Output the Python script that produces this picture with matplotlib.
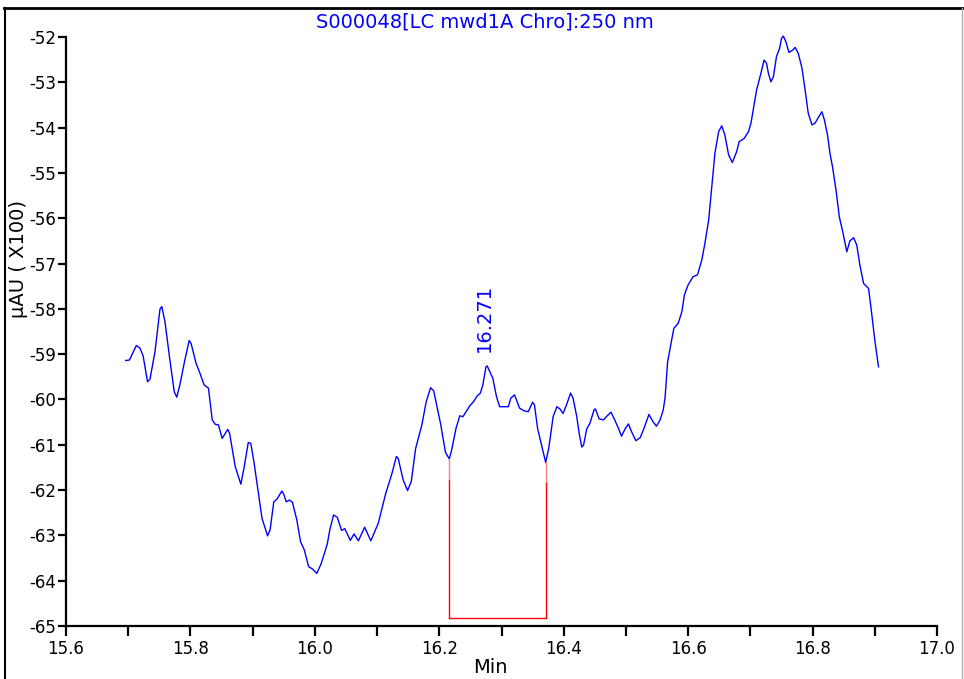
import matplotlib
matplotlib.use("Agg")
import matplotlib.pyplot as plt
from matplotlib.lines import Line2D

# chromatogram trace (min, uAU x100)
time = [15.696, 15.702, 15.713, 15.719, 15.724, 15.731, 15.735, 15.743, 15.751, 15.754,
        15.759, 15.767, 15.774, 15.778, 15.783, 15.791, 15.798, 15.801, 15.809, 15.815,
        15.822, 15.829, 15.835, 15.840, 15.845, 15.851, 15.860, 15.863, 15.872, 15.881,
        15.886, 15.893, 15.897, 15.902, 15.915, 15.924, 15.928, 15.934, 15.939, 15.947,
        15.950, 15.954, 15.959, 15.964, 15.971, 15.977, 15.983, 15.990, 15.996, 16.003,
        16.010, 16.020, 16.024, 16.030, 16.036, 16.043, 16.048, 16.057, 16.063, 16.070,
        16.080, 16.090, 16.102, 16.114, 16.124, 16.131, 16.134, 16.142, 16.149, 16.155,
        16.162, 16.172, 16.179, 16.186, 16.191, 16.202, 16.210, 16.216, 16.220, 16.227,
        16.233, 16.238, 16.244, 16.249, 16.255, 16.261, 16.266, 16.270, 16.275, 16.277,
        16.286, 16.292, 16.297, 16.303, 16.311, 16.315, 16.321, 16.324, 16.329, 16.336,
        16.343, 16.350, 16.353, 16.358, 16.365, 16.371, 16.376, 16.383, 16.389, 16.394,
        16.399, 16.405, 16.411, 16.415, 16.421, 16.425, 16.429, 16.432, 16.437, 16.442,
        16.449, 16.451, 16.457, 16.464, 16.470, 16.476, 16.482, 16.488, 16.493, 16.499,
        16.504, 16.509, 16.516, 16.523, 16.529, 16.537, 16.543, 16.549, 16.555, 16.560,
        16.563, 16.567, 16.572, 16.577, 16.584, 16.590, 16.594, 16.600, 16.608, 16.615,
        16.622, 16.627, 16.633, 16.638, 16.643, 16.649, 16.654, 16.659, 16.665, 16.671,
        16.678, 16.682, 16.690, 16.697, 16.701, 16.706, 16.710, 16.717, 16.722, 16.726,
        16.729, 16.733, 16.737, 16.742, 16.747, 16.750, 16.753, 16.757, 16.762, 16.768,
        16.772, 16.777, 16.783, 16.788, 16.793, 16.799, 16.804, 16.810, 16.815, 16.819,
        16.824, 16.828, 16.832, 16.838, 16.843, 16.849, 16.855, 16.860, 16.866, 16.871,
        16.876, 16.882, 16.890, 16.895, 16.900, 16.906]
signal = [-59.14, -59.13, -58.81, -58.87, -59.04, -59.61, -59.55, -58.95, -58.01, -57.95,
          -58.28, -59.13, -59.83, -59.95, -59.68, -59.13, -58.70, -58.76, -59.20, -59.41,
          -59.68, -59.75, -60.45, -60.55, -60.56, -60.86, -60.66, -60.75, -61.48, -61.87,
          -61.52, -60.95, -60.97, -61.37, -62.62, -63.01, -62.88, -62.26, -62.20, -62.02,
          -62.09, -62.26, -62.22, -62.27, -62.66, -63.14, -63.32, -63.69, -63.74, -63.84,
          -63.63, -63.19, -62.88, -62.55, -62.60, -62.89, -62.85, -63.11, -62.97, -63.12,
          -62.82, -63.12, -62.73, -62.07, -61.63, -61.26, -61.30, -61.78, -62.01, -61.81,
          -61.08, -60.56, -60.05, -59.74, -59.81, -60.53, -61.17, -61.31, -61.11, -60.63,
          -60.36, -60.38, -60.25, -60.14, -60.05, -59.92, -59.86, -59.68, -59.28, -59.26,
          -59.53, -59.94, -60.16, -60.16, -60.16, -59.97, -59.90, -60.01, -60.19, -60.25,
          -60.27, -60.06, -60.12, -60.64, -61.04, -61.39, -61.07, -60.38, -60.16, -60.21,
          -60.31, -60.10, -59.86, -59.97, -60.38, -60.76, -61.05, -61.00, -60.65, -60.53,
          -60.22, -60.21, -60.43, -60.45, -60.36, -60.28, -60.45, -60.64, -60.81, -60.64,
          -60.54, -60.71, -60.91, -60.84, -60.64, -60.33, -60.48, -60.59, -60.45, -60.23,
          -59.95, -59.17, -58.80, -58.43, -58.32, -58.06, -57.69, -57.47, -57.29, -57.25,
          -56.92, -56.55, -56.04, -55.30, -54.57, -54.09, -53.96, -54.16, -54.60, -54.77,
          -54.53, -54.31, -54.24, -54.09, -53.90, -53.50, -53.17, -52.80, -52.51, -52.58,
          -52.80, -52.99, -52.88, -52.43, -52.25, -52.03, -51.98, -52.10, -52.34, -52.29,
          -52.23, -52.36, -52.69, -53.17, -53.68, -53.94, -53.90, -53.76, -53.65, -53.83,
          -54.16, -54.57, -54.86, -55.41, -55.97, -56.33, -56.74, -56.50, -56.43, -56.59,
          -57.03, -57.44, -57.55, -58.10, -58.69, -59.28]

# integration baseline of the one labelled peak
peak_rt = 16.271
peak_label = "16.271"
base_start = [16.216, -61.31]
base_end = [16.371, -61.39]
base_level = -64.83

title = "S000048[LC mwd1A Chro]:250 nm"

fig = plt.figure(figsize=(9.64, 6.79), dpi=100)
ax = fig.add_axes([66 / 964, 53 / 679, 871 / 964, 589 / 679])

ax.plot(time, signal, color="#0000ff", lw=1.0, clip_on=False)

# baseline box, the top bit of each drop line is paler
for (bx, by), fade in [(base_start, -61.78), (base_end, -61.84)]:
    ax.plot([bx, bx], [by, fade], color="#ff8080", lw=1.0)
    ax.plot([bx, bx], [fade, base_level], color="#ff0000", lw=1.0)
ax.plot([base_start[0], base_end[0]], [base_level, base_level], color="#ff0000", lw=1.0)

ax.text(peak_rt + 0.002, -58.95, peak_label, rotation=90, ha="center", va="bottom",
        color="#0000ff", fontsize=14)

ax.set_xlim(15.6, 17.0)
ax.set_ylim(-65, -52)
ax.set_xticks([15.6 + 0.1 * i for i in range(15)])
ax.set_xticklabels([f"{15.6 + 0.1 * i:.1f}" if i % 2 == 0 else "" for i in range(15)])
ax.set_yticks(range(-65, -51))
ax.set_yticklabels([str(v) for v in range(-65, -51)])

for side in ["top", "right"]:
    ax.spines[side].set_visible(False)
for side in ["left", "bottom"]:
    ax.spines[side].set_linewidth(1.6)
ax.tick_params(axis="x", direction="out", length=7, width=1.6, labelsize=12, pad=3)
ax.tick_params(axis="y", direction="out", length=6, width=1.6, labelsize=12, pad=1)

fig.text(485 / 964, 1 - 22 / 679, title, color="#0000ff", fontsize=14,
         ha="center", va="center")
fig.text(19 / 964, 1 - 259 / 679, "µAU ( X100)", rotation=90, fontsize=14,
         ha="center", va="center")
fig.text(490 / 964, 2 / 679, "Min", fontsize=14, ha="center", va="bottom")

# outer frame of the report page
fig.add_artist(Line2D([4 / 964, 963 / 964], [1 - 8 / 679, 1 - 8 / 679],
                      transform=fig.transFigure, color="black", lw=2))
fig.add_artist(Line2D([5 / 964, 5 / 964], [0, 1 - 8 / 679],
                      transform=fig.transFigure, color="black", lw=1.5))
fig.add_artist(Line2D([962 / 964, 962 / 964], [0, 1 - 8 / 679],
                      transform=fig.transFigure, color="#b0b0b0", lw=1))

fig.savefig("out.png", dpi=100)
